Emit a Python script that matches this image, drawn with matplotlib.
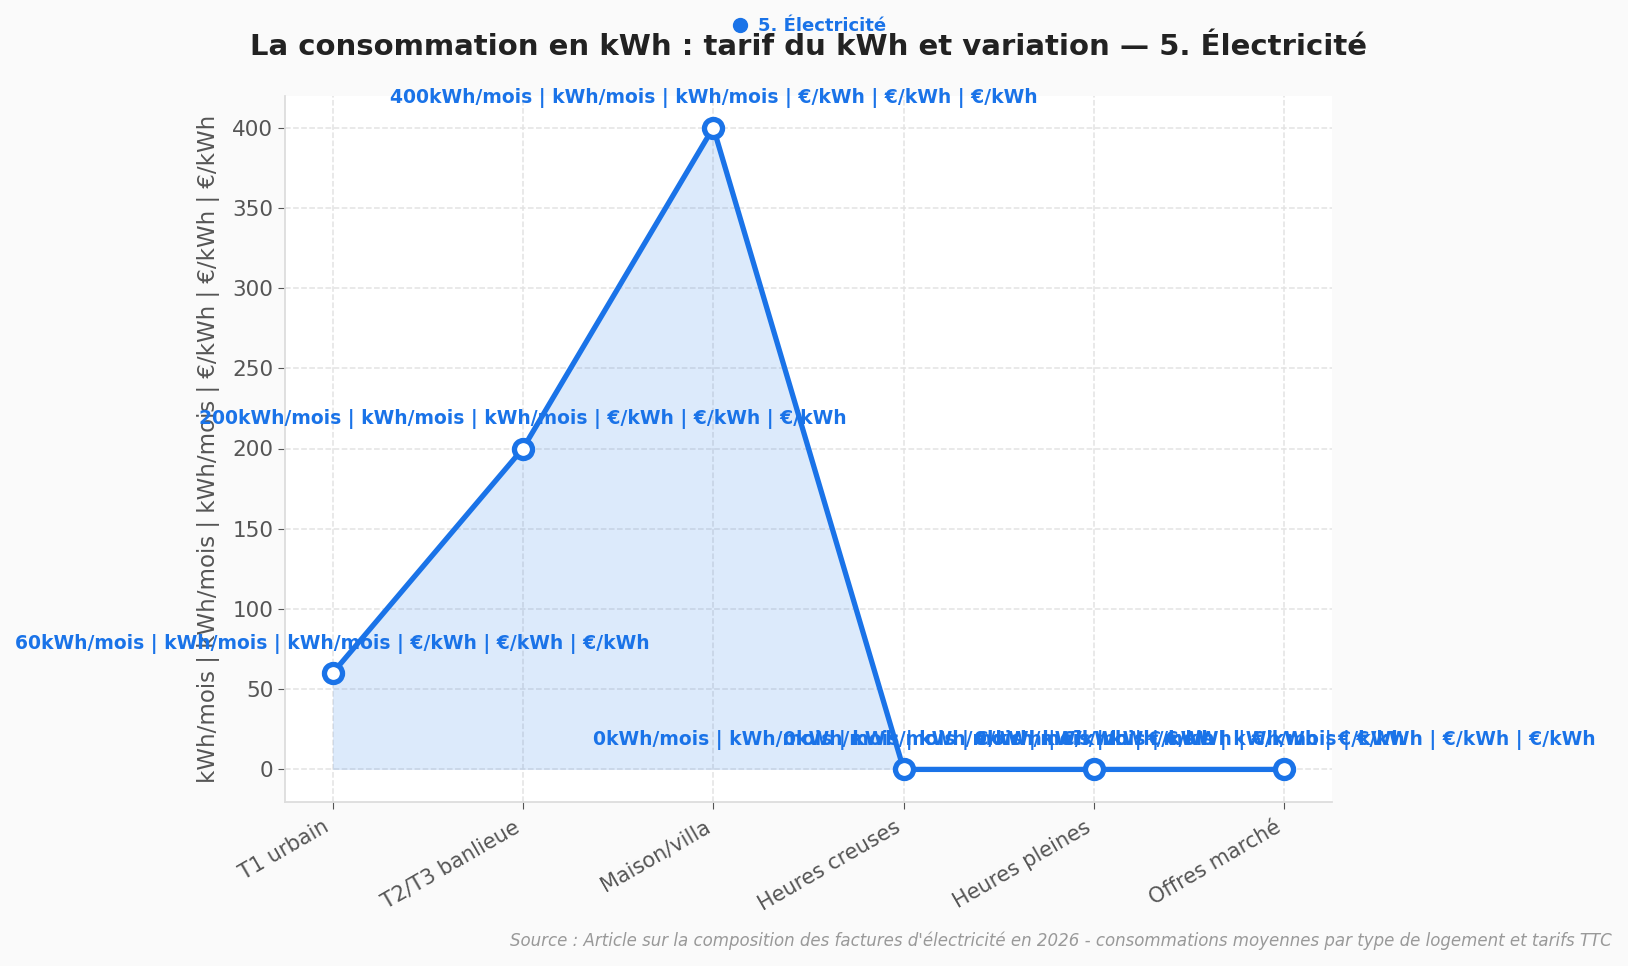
import numpy as np
import matplotlib.pyplot as plt
from matplotlib.lines import Line2D

categories = ['T1 urbain', 'T2/T3 banlieue', 'Maison/villa',
              'Heures creuses', 'Heures pleines', 'Offres marché']
values = [60, 200, 400, 0, 0, 0]
series_name = '5. Électricité'
unit_label = 'kWh/mois | kWh/mois | kWh/mois | €/kWh | €/kWh | €/kWh'
title = 'La consommation en kWh : tarif du kWh et variation — 5. Électricité'
source = ("Source : Article sur la composition des factures d'électricité en 2026"
          " - consommations moyennes par type de logement et tarifs TTC")

blue = '#1a73e8'
grey = '#555555'

fig = plt.figure(figsize=(16.28, 9.66), dpi=100, facecolor='#fafafa')
ax = fig.add_axes([285 / 1628, 1 - 801.5 / 966, (1332 - 285) / 1628, (801.5 - 95.5) / 966])
ax.set_facecolor('white')

x = np.arange(len(categories))
ax.fill_between(x, values, 0, color=blue, alpha=0.15, linewidth=0)
ax.plot(x, values, color=blue, linewidth=3.8, marker='o', markersize=13,
        markerfacecolor='white', markeredgecolor=blue, markeredgewidth=3.8, zorder=3)

for xi, v in zip(x, values):
    ax.annotate(f'{v}{unit_label}', (xi, v), xytext=(0, 14), textcoords='offset points',
                ha='center', va='bottom', fontsize=13.5, fontweight='bold', color=blue)

ax.set_xlim(-0.25, 5.25)
ax.set_ylim(-20, 420)
ax.set_yticks(range(0, 401, 50))
ax.set_xticks(x)
ax.set_xticklabels(categories, rotation=30, ha='right', fontsize=15, color=grey)
ax.tick_params(axis='y', labelsize=15.5, labelcolor=grey, color=grey, length=5)
ax.tick_params(axis='x', color=grey, length=5, pad=6)
ax.set_ylabel(unit_label, fontsize=16.5, color=grey, labelpad=9)

ax.grid(True, linestyle='--', color='#e3e3e3', linewidth=1.1)
ax.set_axisbelow(True)
for s in ['top', 'right']:
    ax.spines[s].set_visible(False)
for s in ['left', 'bottom']:
    ax.spines[s].set_color('#dddddd')
    ax.spines[s].set_linewidth(1.3)

ax.set_title(title, fontsize=21, fontweight='bold', color='#222222', pad=29)

handle = Line2D([], [], color=blue, marker='o', linestyle='none', markersize=10)
leg = ax.legend([handle], [series_name], loc='lower center', bbox_to_anchor=(0.5, 1.075),
                frameon=False, fontsize=13, handletextpad=0.5, handlelength=1.0,
                borderaxespad=0)
for t in leg.get_texts():
    t.set_color(blue)
    t.set_fontweight('bold')

fig.text(1612 / 1628, 1 - 941 / 966, source, ha='right', va='center',
         fontsize=12, style='italic', color='#999999')

fig.savefig('out.png', dpi=100, facecolor=fig.get_facecolor())
